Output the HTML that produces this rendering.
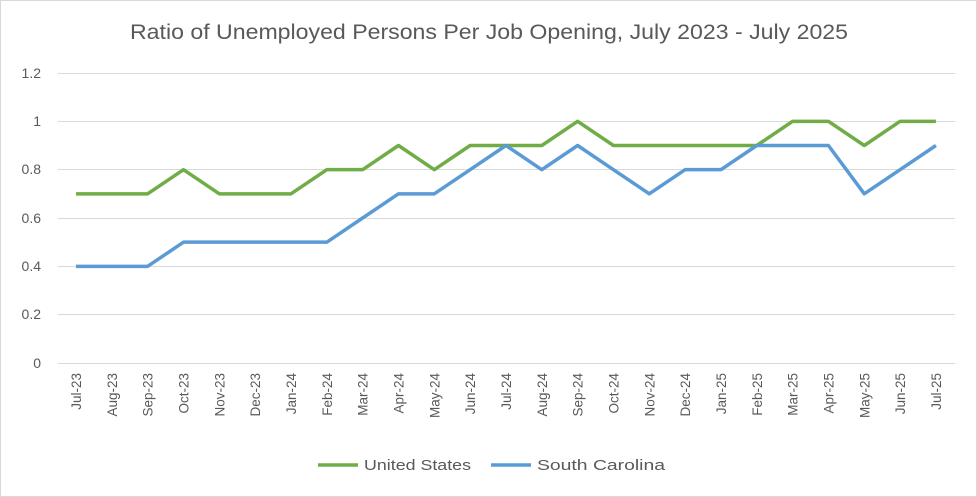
<!DOCTYPE html>
<html><head><meta charset="utf-8"><style>
html,body{margin:0;padding:0;background:#fff;}
svg{display:block;font-family:"Liberation Sans",sans-serif;}
</style></head><body>
<svg width="977" height="497" viewBox="0 0 977 497" xmlns="http://www.w3.org/2000/svg">
<rect x="0.5" y="0.5" width="976" height="496" fill="#fff" stroke="#d9d9d9"/>
<text x="130" y="39" font-size="21" fill="#595959" textLength="718" lengthAdjust="spacingAndGlyphs">Ratio of Unemployed Persons Per Job Opening, July 2023 - July 2025</text>
<g stroke="#d9d9d9" stroke-width="1">
<line x1="58" x2="955" y1="73.5" y2="73.5"/>
<line x1="58" x2="955" y1="121.5" y2="121.5"/>
<line x1="58" x2="955" y1="169.5" y2="169.5"/>
<line x1="58" x2="955" y1="218.5" y2="218.5"/>
<line x1="58" x2="955" y1="266.5" y2="266.5"/>
<line x1="58" x2="955" y1="314.5" y2="314.5"/>
<line x1="58" x2="955" y1="363.5" y2="363.5"/>
</g>
<g font-size="14" fill="#595959" text-anchor="end">
<text x="41" y="78">1.2</text><text x="41" y="126">1</text><text x="41" y="174">0.8</text>
<text x="41" y="223">0.6</text><text x="41" y="271">0.4</text><text x="41" y="319">0.2</text><text x="41" y="368">0</text>
</g>
<g id="xl" font-size="13.5" fill="#595959" text-anchor="end"></g>
<polyline id="us" fill="none" stroke="#70ad47" stroke-width="3.5" stroke-linejoin="round"/>
<polyline id="sc" fill="none" stroke="#5b9bd5" stroke-width="3.5" stroke-linejoin="round"/>
<line x1="318" x2="358" y1="465" y2="465" stroke="#70ad47" stroke-width="3.5"/>
<text x="364" y="470" font-size="15" fill="#595959" textLength="107" lengthAdjust="spacingAndGlyphs">United States</text>
<line x1="491" x2="531" y1="465" y2="465" stroke="#5b9bd5" stroke-width="3.5"/>
<text x="537" y="470" font-size="15" fill="#595959" textLength="128" lengthAdjust="spacingAndGlyphs">South Carolina</text>
</svg>
<script>
var labels=["Jul-23","Aug-23","Sep-23","Oct-23","Nov-23","Dec-23","Jan-24","Feb-24","Mar-24","Apr-24","May-24","Jun-24","Jul-24","Aug-24","Sep-24","Oct-24","Nov-24","Dec-24","Jan-25","Feb-25","Mar-25","Apr-25","May-25","Jun-25","Jul-25"];
var us=[.7,.7,.7,.8,.7,.7,.7,.8,.8,.9,.8,.9,.9,.9,1,.9,.9,.9,.9,.9,1,1,.9,1,1];
var sc=[.4,.4,.4,.5,.5,.5,.5,.5,.6,.7,.7,.8,.9,.8,.9,.8,.7,.8,.8,.9,.9,.9,.7,.8,.9];
function X(i){return 76+i*35.83;}function Y(v){return 363-v*241.67;}
var g=document.getElementById('xl'),ns="http://www.w3.org/2000/svg";
labels.forEach(function(l,i){var t=document.createElementNS(ns,'text');var x=X(i)+5,y=373;
t.setAttribute('x',x);t.setAttribute('y',y);t.setAttribute('transform','rotate(-90 '+x+' '+y+')');t.textContent=l;g.appendChild(t);});
document.getElementById('us').setAttribute('points',us.map(function(v,i){return X(i)+','+Y(v)}).join(' '));
document.getElementById('sc').setAttribute('points',sc.map(function(v,i){return X(i)+','+Y(v)}).join(' '));
</script>
</body></html>
